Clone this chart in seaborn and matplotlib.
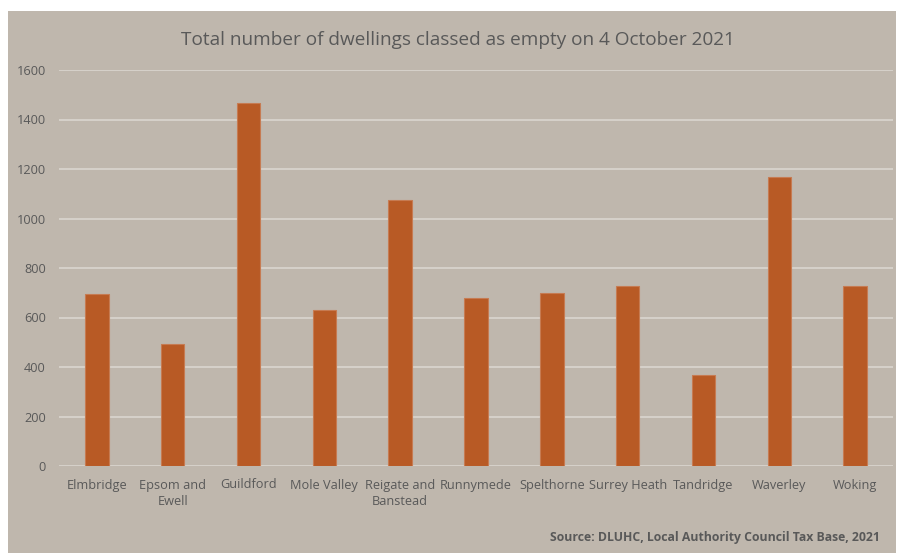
import matplotlib
matplotlib.use("Agg")
import matplotlib.pyplot as plt
from matplotlib.patches import Rectangle
import seaborn as sns
import pandas as pd

districts = ["Elmbridge", "Epsom and\nEwell", "Guildford", "Mole Valley", "Reigate and\nBanstead",
             "Runnymede", "Spelthorne", "Surrey Heath", "Tandridge", "Waverley", "Woking"]
empty_dwellings = [694, 494, 1467, 629, 1075, 679, 698, 728, 368, 1166, 727]
yticks = [0, 200, 400, 600, 800, 1000, 1200, 1400, 1600]

bg = "#BFB7AD"
bar_col = "#B85A25"
grid_col = "#D8D3CD"
txt = "#595959"

sns.set_style("white")
plt.rcParams["font.family"] = ["Open Sans", "DejaVu Sans"]

df = pd.DataFrame({"district": districts, "count": empty_dwellings})

fig = plt.figure(figsize=(8.97, 5.53), dpi=100)
fig.patch.set_facecolor("white")
# grey panel behind the chart, with a white margin on top and left
fig.patches.append(Rectangle((8 / 897, 0), 888 / 897, 1 - 11 / 553, transform=fig.transFigure,
                             facecolor=bg, edgecolor="none", zorder=-10))

ax = fig.add_axes([59 / 897, 87 / 553, 834 / 897, 396 / 553])
ax.set_facecolor("none")

sns.barplot(data=df, x="district", y="count", color=bar_col, width=0.31,
            edgecolor="#C67B52", linewidth=0.8, saturation=1, ax=ax, zorder=3)

ax.set_ylim(0, 1600)
ax.set_xlim(-0.5, len(districts) - 0.5)
ax.set_yticks(yticks)
ax.set_yticklabels([str(t) for t in yticks])
for t in yticks:
    ax.axhline(t, color=grid_col, linewidth=1.3, zorder=1)

for s in ax.spines.values():
    s.set_visible(False)
ax.tick_params(axis="both", length=0, colors=txt, labelsize=9.2)
ax.tick_params(axis="y", pad=9.5)
ax.tick_params(axis="x", pad=9)
for lbl in ax.get_xticklabels():
    lbl.set_linespacing(1.35)
ax.set_xlabel("")
ax.set_ylabel("")

fig.text(458 / 897, 1 - 40 / 553, "Total number of dwellings classed as empty on 4 October 2021",
         ha="center", va="center", fontsize=13.7, color=txt)
fig.text(880 / 897, 1 - 537 / 553, "Source: DLUHC, Local Authority Council Tax Base, 2021",
         ha="right", va="center", fontsize=8.8, fontweight="bold", color=txt)

fig.savefig("out.png", dpi=100)
